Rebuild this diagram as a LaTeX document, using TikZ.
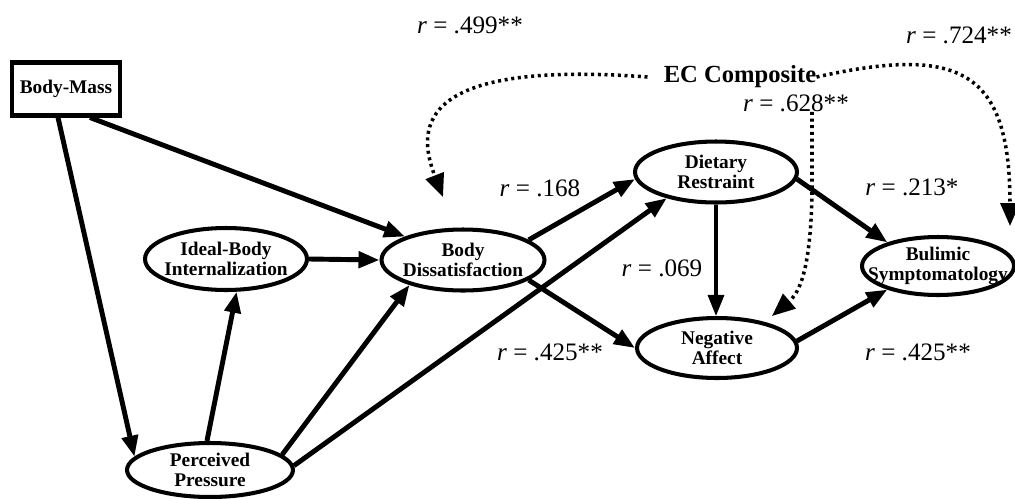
\documentclass[tikz,border=0pt]{standalone}
\usepackage{fontspec}
\setmainfont{Liberation Serif}
\usetikzlibrary{shapes.geometric,arrows.meta}

\newcommand{\twolines}[2]{\makebox[0pt]{#1}\\\makebox[0pt]{#2}}

\tikzset{
    latent/.style={draw, ellipse, line width=2.3pt, inner sep=0pt, align=center, font=\fontsize{11}{11.8}\selectfont\bfseries},
    measured/.style={draw, rectangle, line width=2.3pt, minimum width=2.16cm, minimum height=1.06cm, inner sep=0pt, font=\fontsize{11}{11.8}\selectfont\bfseries},
    effect/.style={-{Triangle[length=0.42cm,width=0.32cm]}, line width=2.8pt},
    corr/.style={-{Triangle[length=0.46cm,width=0.38cm]}, line width=2pt, dash pattern=on 1.7pt off 2.1pt},
    coef/.style={font=\fontsize{14.3}{16}\selectfont, inner sep=0pt}
}

\begin{document}
\begin{tikzpicture}[x=0.02cm, y=-0.02cm]
    \useasboundingbox (0,0) rectangle (1015,498);

    % Measured variable
    \node[measured] (bodymass) at (66,89) {Body-Mass};

    % Latent variables
    \node[latent, minimum width=3.24cm, minimum height=1.24cm] (ideal) at (226,259) {\twolines{Ideal-Body}{Internalization}};
    \node[latent, minimum width=3.26cm, minimum height=1.22cm] (dissat) at (463,260) {\twolines{Body}{Dissatisfaction}};
    \node[latent, minimum width=3.32cm, minimum height=1.08cm] (pressure) at (210,470) {\twolines{Perceived}{Pressure}};
    \node[latent, minimum width=3.24cm, minimum height=1.22cm] (restraint) at (716,172) {\twolines{Dietary}{Restraint}};
    \node[latent, minimum width=3.2cm, minimum height=1.2cm] (negaff) at (717,348) {\twolines{Negative}{Affect}};
    \node[latent, minimum width=3.04cm, minimum height=1.16cm] (bulimic) at (938,266) {\twolines{Bulimic}{Symptomatology}};

    % Composite
    \node[font=\fontsize{14}{16}\selectfont\bfseries, inner sep=0pt] (ec) at (740,77) {EC Composite};

    % Correlations
    \node[coef] (r499) at (470,25) {\textit{r} = .499**};
    \node[coef] (r724) at (959,35) {\textit{r} = .724**};
    \node[coef] (r628) at (796,103) {\textit{r} = .628**};
    \node[coef] (r168) at (540,188) {\textit{r} = .168};
    \node[coef] (r213) at (912,187) {\textit{r} = .213*};
    \node[coef] (r069) at (662,268) {\textit{r} = .069};
    \node[coef] (r425a) at (550,352) {\textit{r} = .425**};
    \node[coef] (r425b) at (918,352) {\textit{r} = .425**};

    % Paths
    \draw[effect] ([xshift=-0.16cm]bodymass.south) -- (pressure.170);
    \draw[effect] ([xshift=0.48cm]bodymass.south) -- (dissat.158);
    \draw[effect] (ideal.east) -- (dissat.west);
    \draw[effect] (pressure.96) -- (ideal.-72);
    \draw[effect] (pressure.12) -- (dissat.-155);
    \draw[effect] (pressure.3) -- (restraint.-152);
    \draw[effect] (dissat.17) -- (restraint.185);
    \draw[effect] (dissat.-17) -- (negaff.180);
    \draw[effect, line width=1.9pt] (restraint.south) -- (restraint.south |- negaff.north);
    \draw[effect] (restraint.-5) -- (bulimic.155);
    \draw[effect] (negaff.5) -- (bulimic.-155);

    % Composite links
    \coordinate (ecdissat) at (443,197);
    \coordinate (ecbulimic) at (1010,226);
    \coordinate (ecnegaff) at (772,316);
    \draw[corr] ([xshift=-0.32cm]ec.west) .. controls (420,60) and (415,125) .. (ecdissat);
    \draw[corr] (ec.east) .. controls (960,45) and (1010,70) .. (ecbulimic);
    \draw[corr] ([xshift=0.32cm]r628.south) -- ++(0,85) .. controls (810,270) and (800,292) .. (ecnegaff);
\end{tikzpicture}
\end{document}
